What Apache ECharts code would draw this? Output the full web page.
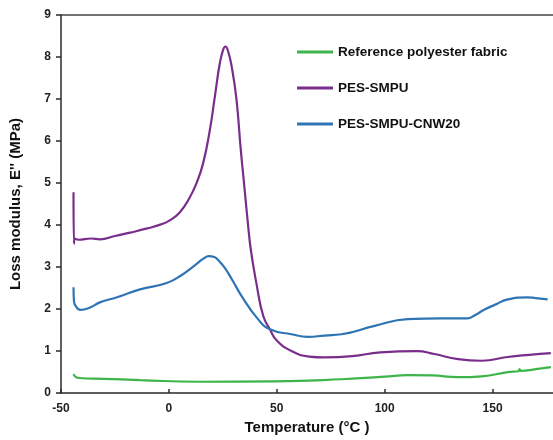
<!DOCTYPE html>
<html>
<head>
<meta charset="utf-8">
<script src="https://cdn.jsdelivr.net/npm/echarts@6/dist/echarts.min.js"></script>
<style>
html,body{margin:0;padding:0;background:#fff;}
#c{width:553px;height:440px;}
</style>
</head>
<body>
<div id="c"></div>
<script>
// Data
var seriesNames = ['Reference polyester fabric', 'PES-SMPU', 'PES-SMPU-CNW20'];
var xTicks = [-50, 0, 50, 100, 150];
var yTicks = [0, 1, 2, 3, 4, 5, 6, 7, 8, 9];

var refTemp = [-44.2, -43.5, -41.7, -30, -13.4, 14, 49, 80, 100, 110.6, 122, 134, 145, 157, 162, 162.5, 163, 170, 177];
var refMod  = [0.45, 0.40, 0.36, 0.34, 0.31, 0.27, 0.28, 0.33, 0.39, 0.43, 0.42, 0.38, 0.40, 0.50, 0.52, 0.57, 0.53, 0.57, 0.62];

var pesTemp = [-44.2, -44, -43.6, -42, -36, -32, -25, -18, -10, -4, 0, 5, 9.7, 12.8, 15.9, 19, 21.3, 23.6, 25.2, 26.2, 27.3, 29, 31.3, 33.3, 35, 36.5, 38, 40.6, 43.7, 46.8, 50, 56.8, 65, 72, 85, 98, 115, 123, 134, 145, 157, 167, 177];
var pesMod  = [4.78, 3.56, 3.68, 3.65, 3.68, 3.66, 3.74, 3.82, 3.92, 4.01, 4.1, 4.3, 4.66, 5.0, 5.48, 6.27, 7.06, 7.85, 8.18, 8.25, 8.16, 7.8, 7.0, 5.8, 4.9, 4.1, 3.4, 2.6, 1.84, 1.52, 1.25, 1.0, 0.87, 0.85, 0.88, 0.97, 1.0, 0.93, 0.81, 0.77, 0.86, 0.91, 0.95];

var cnwTemp = [-44.2, -44, -43.5, -41, -36, -32, -24, -13.4, -1, 6.5, 12, 16, 18.5, 21, 23, 25.9, 29.5, 33.7, 41.3, 46.8, 56.8, 64.5, 72.2, 80, 95.4, 110.6, 126.3, 138.5, 142, 146.3, 151, 157, 166, 170, 175.5];
var cnwMod  = [2.52, 2.2, 2.1, 1.98, 2.05, 2.16, 2.28, 2.47, 2.62, 2.83, 3.04, 3.2, 3.26, 3.24, 3.16, 2.98, 2.68, 2.31, 1.76, 1.52, 1.40, 1.34, 1.37, 1.40, 1.60, 1.76, 1.78, 1.78, 1.86, 1.99, 2.1, 2.23, 2.28, 2.26, 2.23];

function pairs(xs, ys) { return xs.map(function (x, i) { return [x, ys[i]]; }); }

var colors = ['#3db54a', '#7a2e8c', '#2f74b5'];
var font = 'Liberation Sans, Arial, sans-serif';

var chart = echarts.init(document.getElementById('c'));
chart.setOption({
  animation: false,
  backgroundColor: '#ffffff',
  grid: { left: 61, top: 15, right: 0, bottom: 46 },
  legend: {
    orient: 'vertical',
    left: 292,
    top: 39,
    itemWidth: 36,
    itemHeight: 3,
    itemGap: 20,
    icon: 'rect',
    data: seriesNames,
    textStyle: { fontFamily: font, fontWeight: 'bold', fontSize: 13.5, color: '#111', lineHeight: 16 }
  },
  xAxis: [{
    type: 'value',
    min: -50,
    max: 178,
    interval: 50,
    name: 'Temperature (°C )',
    nameLocation: 'middle',
    nameGap: 24,
    nameTextStyle: { fontFamily: font, fontWeight: 'bold', fontSize: 15, color: '#111' },
    axisLine: { show: true, onZero: false, lineStyle: { color: '#2a2a2a', width: 1.5 } },
    axisTick: { show: true, inside: true, length: 4, lineStyle: { color: '#2a2a2a', width: 1.5 } },
    axisLabel: {
      fontFamily: font, fontWeight: 'bold', fontSize: 12, color: '#222', margin: 10,
      showMaxLabel: false,
      formatter: function (v) { return xTicks.indexOf(v) >= 0 ? String(v) : ''; }
    },
    splitLine: { show: false }
  }, {
    type: 'value',
    position: 'top',
    min: -50,
    max: 178,
    axisLine: { show: true, onZero: false, lineStyle: { color: '#444', width: 1.5 } },
    axisTick: { show: false },
    axisLabel: { show: false },
    splitLine: { show: false }
  }],
  yAxis: {
    type: 'value',
    min: 0,
    max: 9,
    interval: 1,
    name: "Loss modulus, E'' (MPa)",
    nameLocation: 'middle',
    nameGap: 38,
    nameTextStyle: { fontFamily: font, fontWeight: 'bold', fontSize: 15, color: '#111' },
    axisLine: { show: true, onZero: false, lineStyle: { color: '#2a2a2a', width: 1.5 } },
    axisTick: { show: true, inside: false, length: 5, lineStyle: { color: '#2a2a2a', width: 1.5 } },
    axisLabel: {
      fontFamily: font, fontWeight: 'bold', fontSize: 12, color: '#222', margin: 10,
      formatter: function (v) { return yTicks.indexOf(v) >= 0 ? String(v) : ''; }
    },
    splitLine: { show: false }
  },
  series: [
    { name: seriesNames[0], type: 'line', smooth: 0.5, showSymbol: false, data: pairs(refTemp, refMod),
      lineStyle: { color: colors[0], width: 2.2 }, itemStyle: { color: colors[0] } },
    { name: seriesNames[1], type: 'line', smooth: 0.5, showSymbol: false, data: pairs(pesTemp, pesMod),
      lineStyle: { color: colors[1], width: 2.2 }, itemStyle: { color: colors[1] } },
    { name: seriesNames[2], type: 'line', smooth: 0.5, showSymbol: false, data: pairs(cnwTemp, cnwMod),
      lineStyle: { color: colors[2], width: 2.2 }, itemStyle: { color: colors[2] } }
  ]
});
</script>
</body>
</html>
